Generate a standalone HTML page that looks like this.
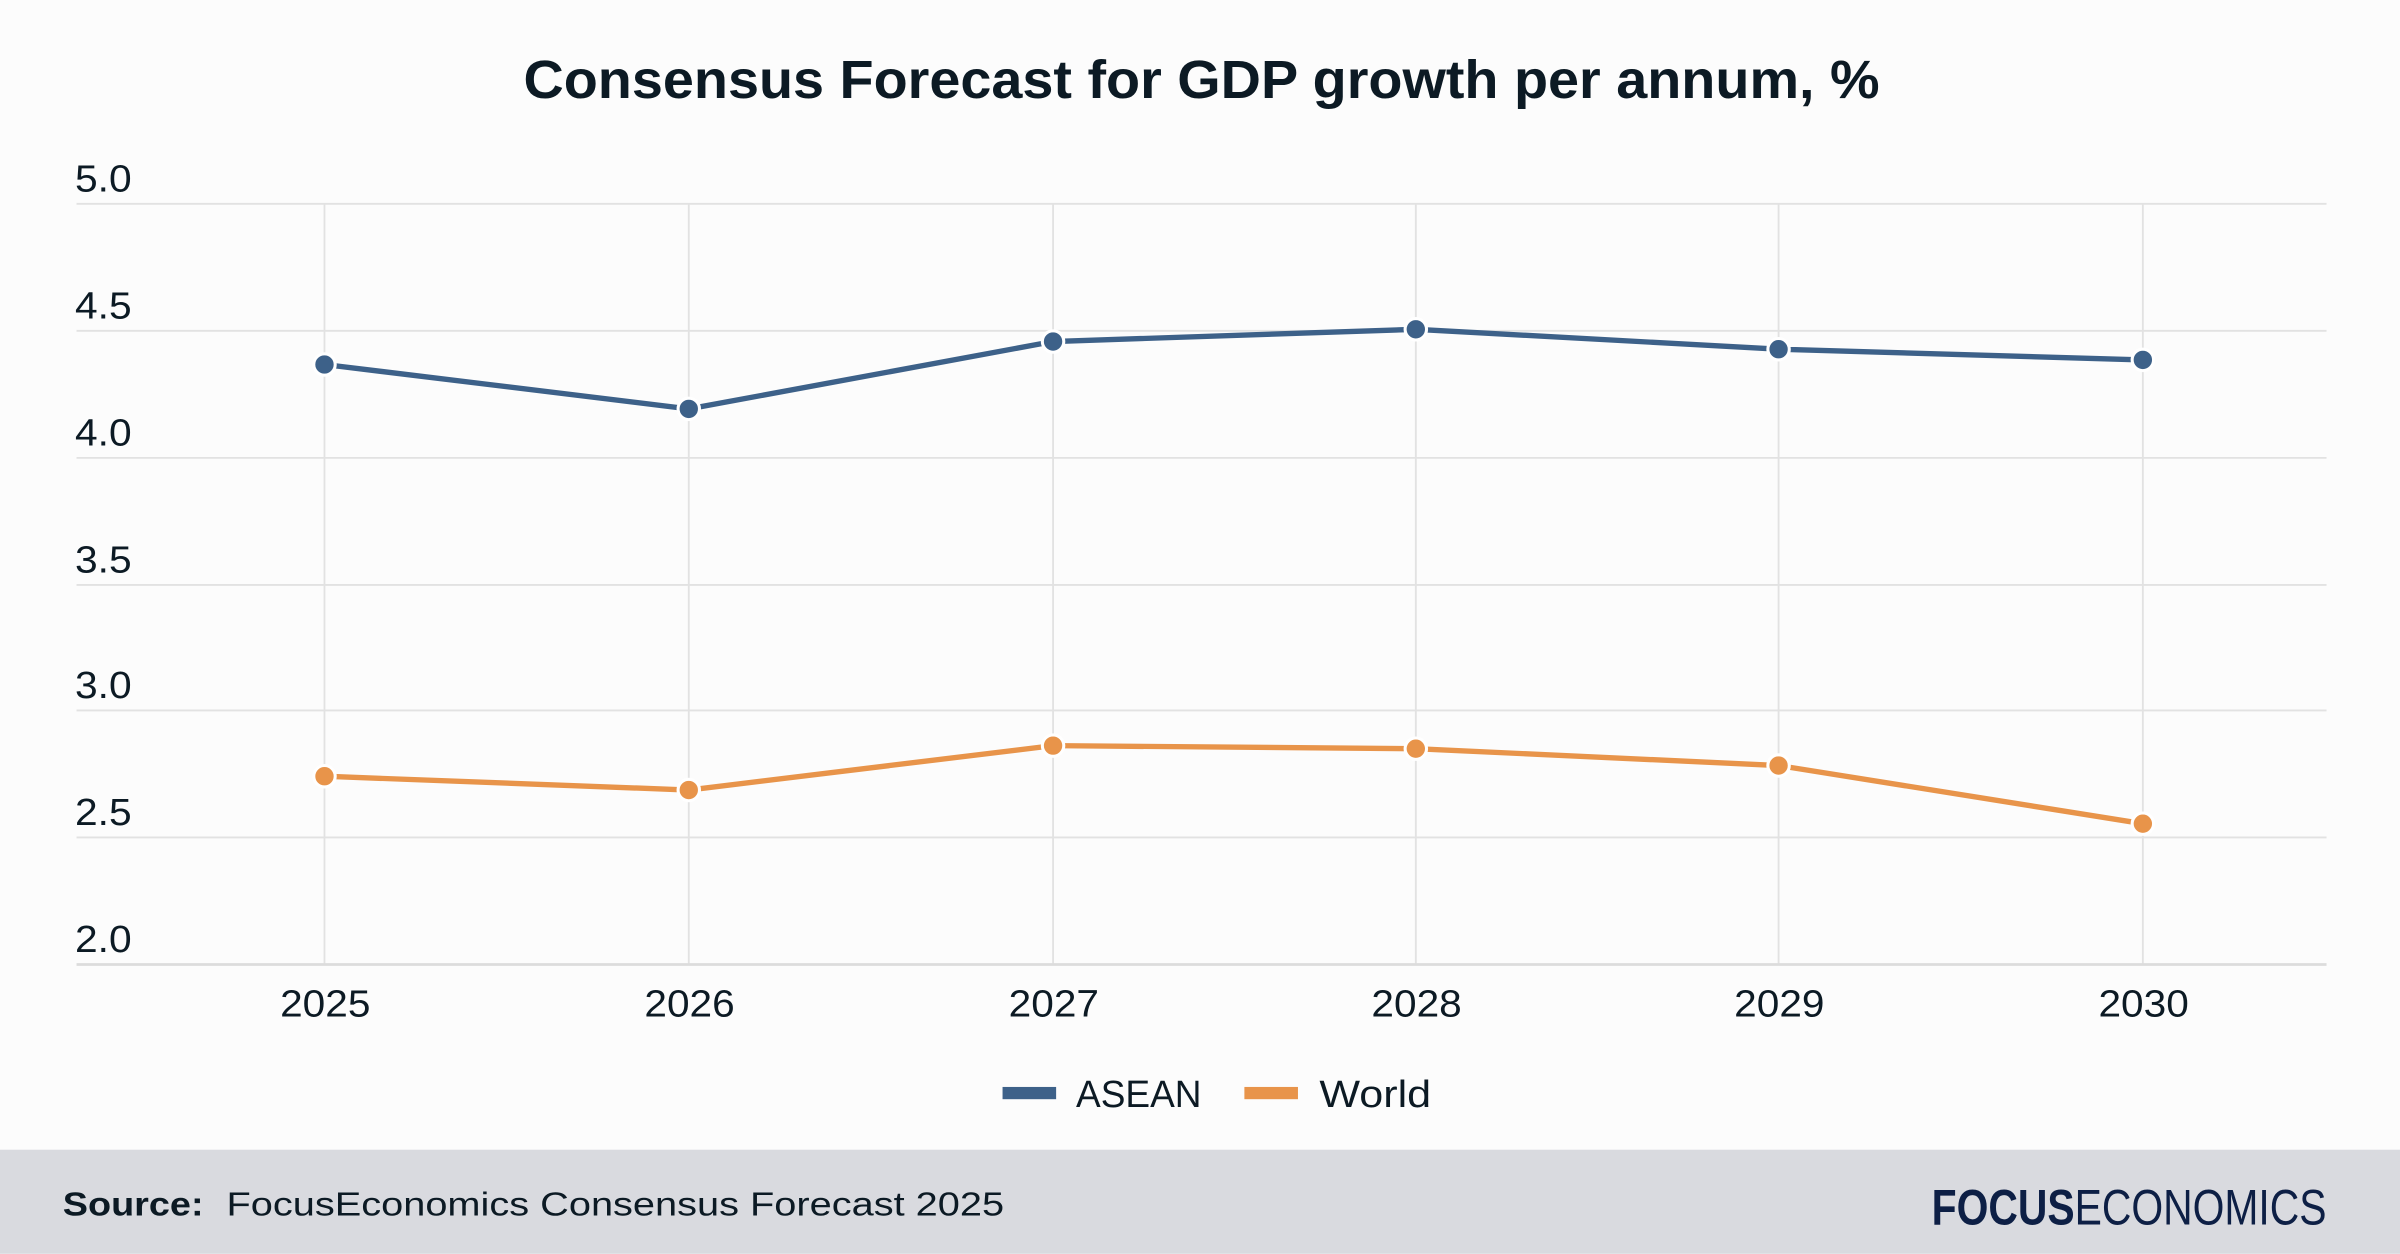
<!DOCTYPE html>
<html><head><meta charset="utf-8"><style>
html,body{margin:0;padding:0;background:#fcfcfc;}
svg{display:block;}
text{font-family:"Liberation Sans",sans-serif;fill:#0c1a24;}
</style></head><body>
<svg width="2400" height="1254" viewBox="0 0 1568 819" xmlns="http://www.w3.org/2000/svg">
<rect width="1568" height="819" fill="#fcfcfc"/>
<text x="342" y="64" font-size="35" font-weight="bold" fill="#000" textLength="886" lengthAdjust="spacingAndGlyphs">Consensus Forecast for GDP growth per annum, %</text>
<g stroke="#e2e2e2" stroke-width="1.2">
<line x1="212" y1="133" x2="212" y2="630"/><line x1="450" y1="133" x2="450" y2="630"/>
<line x1="688" y1="133" x2="688" y2="630"/><line x1="925" y1="133" x2="925" y2="630"/>
<line x1="1162" y1="133" x2="1162" y2="630"/><line x1="1400" y1="133" x2="1400" y2="630"/>
<line x1="50" y1="133" x2="1520" y2="133"/><line x1="50" y1="216" x2="1520" y2="216"/>
<line x1="50" y1="299" x2="1520" y2="299"/><line x1="50" y1="382" x2="1520" y2="382"/>
<line x1="50" y1="464" x2="1520" y2="464"/><line x1="50" y1="547" x2="1520" y2="547"/>
</g>
<line x1="50" y1="630" x2="1520" y2="630" stroke="#dcdcdc" stroke-width="1.8"/>
<g font-size="25">
<text x="49" y="125" textLength="37" lengthAdjust="spacingAndGlyphs">5.0</text><text x="49" y="208" textLength="37" lengthAdjust="spacingAndGlyphs">4.5</text><text x="49" y="291" textLength="37" lengthAdjust="spacingAndGlyphs">4.0</text>
<text x="49" y="374" textLength="37" lengthAdjust="spacingAndGlyphs">3.5</text><text x="49" y="456" textLength="37" lengthAdjust="spacingAndGlyphs">3.0</text><text x="49" y="539" textLength="37" lengthAdjust="spacingAndGlyphs">2.5</text><text x="49" y="622" textLength="37" lengthAdjust="spacingAndGlyphs">2.0</text>
</g>
<g font-size="25">
<text x="183" y="664" textLength="59" lengthAdjust="spacingAndGlyphs">2025</text><text x="421" y="664" textLength="59" lengthAdjust="spacingAndGlyphs">2026</text><text x="659" y="664" textLength="59" lengthAdjust="spacingAndGlyphs">2027</text>
<text x="896" y="664" textLength="59" lengthAdjust="spacingAndGlyphs">2028</text><text x="1133" y="664" textLength="59" lengthAdjust="spacingAndGlyphs">2029</text><text x="1371" y="664" textLength="59" lengthAdjust="spacingAndGlyphs">2030</text>
</g>
<polyline points="212,238 450,267 688,223 925,215 1162,228 1400,235" fill="none" stroke="#3d6189" stroke-width="3.5"/>
<polyline points="212,507 450,516 688,487 925,489 1162,500 1400,538" fill="none" stroke="#e8944a" stroke-width="3.5"/>
<g fill="#3d6189" stroke="#fff" stroke-width="2">
<circle cx="212" cy="238" r="7"/><circle cx="450" cy="267" r="7"/><circle cx="688" cy="223" r="7"/>
<circle cx="925" cy="215" r="7"/><circle cx="1162" cy="228" r="7"/><circle cx="1400" cy="235" r="7"/>
</g>
<g fill="#e8944a" stroke="#fff" stroke-width="2">
<circle cx="212" cy="507" r="7"/><circle cx="450" cy="516" r="7"/><circle cx="688" cy="487" r="7"/>
<circle cx="925" cy="489" r="7"/><circle cx="1162" cy="500" r="7"/><circle cx="1400" cy="538" r="7"/>
</g>
<rect x="655" y="710" width="35" height="8" fill="#3d6189"/>
<text x="703" y="723" font-size="25" textLength="82" lengthAdjust="spacingAndGlyphs">ASEAN</text>
<rect x="813" y="710" width="35" height="8" fill="#e8944a"/>
<text x="862" y="723" font-size="25" textLength="73" lengthAdjust="spacingAndGlyphs">World</text>
<rect x="0" y="751" width="1568" height="68" fill="#d9dadf"/>
<text x="41" y="794" font-size="22" font-weight="bold" fill="#000" textLength="92" lengthAdjust="spacingAndGlyphs">Source:</text>
<text x="148" y="794" font-size="22" fill="#000" textLength="508" lengthAdjust="spacingAndGlyphs">FocusEconomics Consensus Forecast 2025</text>
<text x="1262" y="800" font-size="33" fill="#0d1f45" textLength="258" lengthAdjust="spacingAndGlyphs"><tspan font-weight="bold" fill="#0d1f45">FOCUS</tspan><tspan fill="#0d1f45">ECONOMICS</tspan></text>
</svg>
</body></html>
